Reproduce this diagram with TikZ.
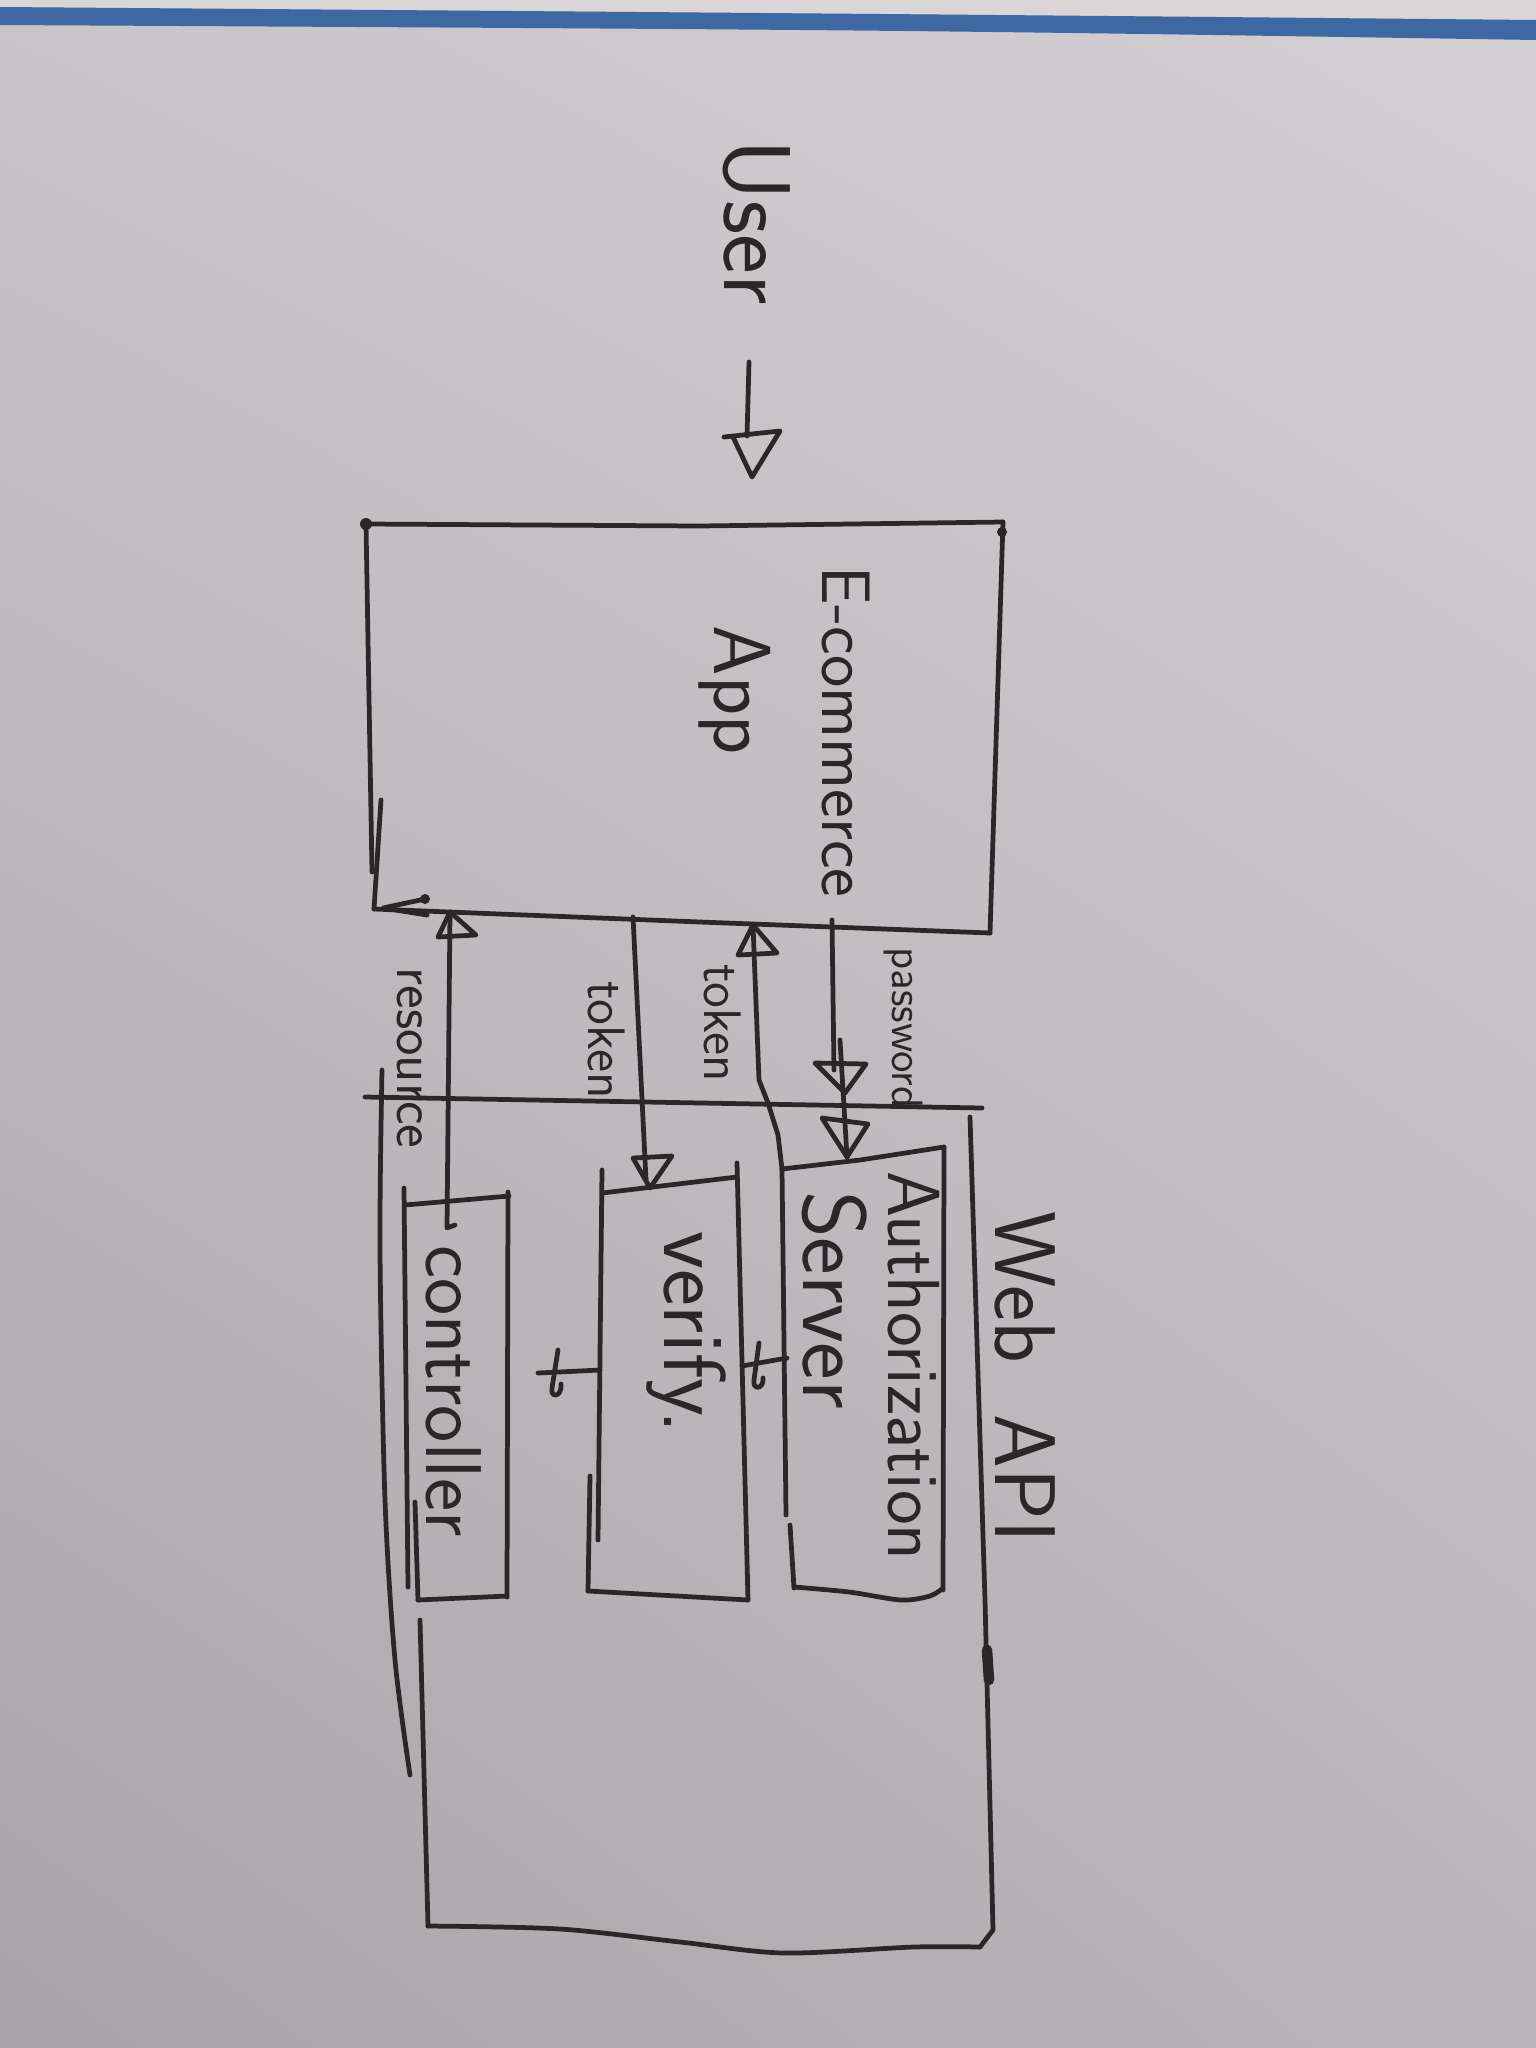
\documentclass[tikz,border=0pt]{standalone}
\usetikzlibrary{arrows.meta,shadings}
\definecolor{inkc}{HTML}{2B2729}
\definecolor{paperTL}{HTML}{C9C4C7}
\definecolor{paperTR}{HTML}{D3CFD2}
\definecolor{paperBL}{HTML}{A9A4A7}
\definecolor{paperBR}{HTML}{BAB5B8}
\definecolor{topstrip}{HTML}{DAD6D8}
\definecolor{blueband}{HTML}{3E68A2}
\begin{document}
\begin{tikzpicture}[x=0.01cm,y=-0.01cm,
  ink/.style={draw=inkc, line width=1.35pt, line cap=round, line join=round},
  lbl/.style={text=inkc, font=\sffamily, rotate=-90, inner sep=0pt, anchor=center}]
% ---------- background ----------
\useasboundingbox (0,0) rectangle (1536,2048);
\shade[upper left=paperTL, upper right=paperTR, lower left=paperBL, lower right=paperBR] (0,0) rectangle (1536,2048);
\fill[topstrip] (0,0) -- (1536,0) -- (1536,20) .. controls (900,14) .. (0,7) -- cycle;
\fill[blueband] (0,7) .. controls (900,14) .. (1536,20) -- (1536,40) .. controls (900,30) .. (0,25) -- cycle;

% ---------- texts ----------
\node[lbl, font=\sffamily\fontsize{27}{31}\selectfont] (user) at (757,222) {User};
\node[lbl, font=\sffamily\fontsize{19.5}{23}\selectfont] (ectext) at (846,732) {E-commerce};
\node[lbl, font=\sffamily\fontsize{23}{27}\selectfont] (apptext) at (735,690) {App};
\node[lbl, font=\sffamily\fontsize{12.5}{15}\selectfont] (pwtext) at (903,1028) {password};
\node[lbl, font=\sffamily\fontsize{15}{18}\selectfont] (tokR) at (723,1023) {token};
\node[lbl, font=\sffamily\fontsize{15}{18}\selectfont] (tokL) at (607,1040) {token};
\node[lbl, font=\sffamily\fontsize{16}{19}\selectfont] (restext) at (410,1058) {resource};
\node[lbl, font=\sffamily\fontsize{21}{25}\selectfont] (authtext) at (914,1366) {Authorization};
\node[lbl, font=\sffamily\fontsize{25.5}{30}\selectfont] (servtext) at (835,1300) {Server};
\node[lbl, font=\sffamily\fontsize{25}{29}\selectfont] (vertext) at (686,1332) {verify.};
\node[lbl, font=\sffamily\fontsize{22.5}{27}\selectfont] (ctltext) at (454,1391) {controller};
\node[lbl, font=\sffamily\fontsize{24.5}{29}\selectfont] (apitext) at (1025,1377) {Web\hspace{0.6em}API};

% ---------- E-commerce App box ----------
\coordinate (ecTL) at (366,524);
\coordinate (ecTR) at (1003,522);
\coordinate (ecBR) at (990,933);
\coordinate (ecBL) at (374,909);
\draw[ink] (ecTL) -- (700,526) -- (ecTR);
\draw[ink] (ecTR) -- (ecBR);
\draw[ink] (ecBL) -- (700,922) -- (ecBR);
\draw[ink] (ecTL) -- (372,872);
\draw[ink] (381,800) -- (ecBL);
\fill[inkc] (ecTL) circle (6);
\fill[inkc] (1002,532) circle (5);
\coordinate (ecLT) at (425,899);
\draw[ink] (ecLT) -- (383,908) -- (427,915);
\fill[inkc] (ecLT) circle (5);

% ---------- Web API box ----------
\coordinate (waTL) at (365,1097);
\coordinate (waTR) at (982,1108);
\draw[ink] (waTL) -- (waTR);
\draw[ink] (970,1117) -- (985,1600) -- (993,1930) -- (980,1947);
\draw[ink] plot[smooth] coordinates {(980,1947) (914,1947) (784,1953) (680,1942) (560,1929) (428,1926)};
\draw[ink] (428,1926) -- (420,1620);
\draw[ink] plot[smooth] coordinates {(382,1070) (380,1250) (385,1500) (395,1660) (410,1775)};
\draw[ink, line width=3pt] (987,1650) -- (989,1680);

% ---------- Authorization Server box ----------
\coordinate (auTL) at (782,1169);
\coordinate (auTR) at (944,1147);
\draw[ink] (auTL) -- (860,1160) -- (auTR);
\draw[ink] (auTR) -- (943,1590);
\draw[ink] plot[smooth] coordinates {(794,1587) (849,1592) (901,1600) (930,1596) (943,1588)};
\draw[ink] (auTL) -- (786,1515);
\draw[ink] (790,1525) -- (794,1588);

% ---------- verify box ----------
\coordinate (veTL) at (602,1193);
\coordinate (veTR) at (737,1177);
\draw[ink] (veTL) -- (veTR);
\draw[ink] (737,1163) -- (748,1600);
\draw[ink] (602,1170) -- (598,1540);
\draw[ink] (590,1476) -- (588,1591);
\draw[ink] (588,1591) -- (748,1600);

% ---------- controller box ----------
\coordinate (ctTL) at (405,1205);
\coordinate (ctTR) at (509,1196);
\draw[ink] (ctTL) -- (ctTR);
\draw[ink] (404,1188) -- (408,1587);
\draw[ink] (415,1502) -- (418,1600);
\draw[ink] (508,1192) -- (507,1597);
\draw[ink] (418,1600) -- (507,1596);

% ---------- connectors ----------
% User -> E-commerce
\coordinate (uStart) at (749,362);
\coordinate (uTip) at (752,477);
\draw[ink] (uStart) -- (747,436);
\draw[ink] (724,437) -- (780,431) -- (uTip) -- (733,437);

% password: E-commerce -> Authorization Server
\coordinate (pwA) at (832,920);
\coordinate (pwB) at (847,1157);
\draw[ink] (pwA) -- (834,1070);
\draw[ink] (840,1040) -- (pwB);
\draw[ink] (815,1063) -- (866,1064) -- (845,1093) -- cycle;
\draw[ink] (822,1118) -- (868,1124) -- (pwB) -- cycle;

% token: Authorization Server -> E-commerce
\coordinate (tkA) at (auTL);
\coordinate (tkB) at (753,925);
\draw[ink] (tkA) -- (778,1135) -- (768,1103) -- (759,1080) -- (tkB);
\draw[ink] (738,955) -- (777,953) -- (tkB) -- cycle;

% token: E-commerce -> verify
\coordinate (tvA) at (633,917);
\coordinate (tvB) at (650,1188);
\draw[ink] (tvA) -- (646,1180);
\draw[ink] (633,1158) -- (672,1156) -- (tvB) -- cycle;

% resource: controller -> E-commerce
\coordinate (rsA) at (447,1228);
\coordinate (rsB) at (450,912);
\draw[ink] (455,1225) -- (rsA) -- (rsB);
\draw[ink] (438,937) -- (476,935) -- (rsB) -- cycle;

% Authorization Server -> verify (small)
\coordinate (avA) at (787,1358);
\coordinate (avB) at (742,1366);
\draw[ink] (avA) -- (avB);
\draw[ink] (759,1343) -- (754,1380) .. controls (752,1390) and (764,1390) .. (763,1378);

% verify -> controller (small)
\coordinate (vcA) at (600,1370);
\coordinate (vcB) at (538,1373);
\draw[ink] (vcA) -- (vcB);
\draw[ink] (558,1350) -- (552,1388) .. controls (550,1398) and (562,1398) .. (561,1384);
\end{tikzpicture}
\end{document}
